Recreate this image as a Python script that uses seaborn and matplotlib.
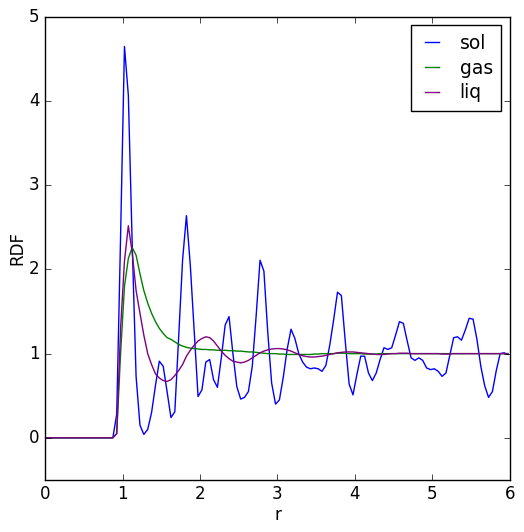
"""
Radial distribution function for solid, gas and liquid phases
"""
import numpy as np
import pandas as pd
import matplotlib
matplotlib.use("Agg")
import matplotlib.pyplot as plt
import seaborn as sns

# r grid (bin centres, step 0.05)
r = np.arange(120) * 0.05 + 0.025

sol = [0.0] * 17 + [
    0.0, 0.28, 2.4, 4.65, 4.07, 2.3, 0.73, 0.15, 0.04, 0.1,
    0.3, 0.62, 0.91, 0.85, 0.55, 0.24, 0.31, 1.2, 2.11, 2.64,
    2.05, 1.27, 0.49, 0.57, 0.9, 0.93, 0.69, 0.6, 0.95, 1.34,
    1.44, 1.0, 0.61, 0.46, 0.48, 0.55, 0.85, 1.45, 2.11, 1.98,
    1.25, 0.65, 0.4, 0.45, 0.72, 1.05, 1.29, 1.18, 1.0, 0.9,
    0.84, 0.82, 0.83, 0.82, 0.79, 0.86, 1.1, 1.4, 1.73, 1.69,
    1.15, 0.64, 0.51, 0.75, 0.97, 0.97, 0.77, 0.68, 0.77, 0.93,
    1.07, 1.05, 1.07, 1.22, 1.38, 1.36, 1.15, 0.95, 0.92, 0.95,
    0.92, 0.83, 0.81, 0.82, 0.79, 0.73, 0.77, 0.98, 1.19, 1.2,
    1.16, 1.28, 1.42, 1.41, 1.17, 0.85, 0.62, 0.48, 0.55, 0.8,
    1.0, 1.01, 0.99,
]

gas = [0.0] * 17 + [
    0.0, 0.05, 1.0, 1.8, 2.13, 2.26, 2.17, 1.95, 1.75, 1.6,
    1.48, 1.38, 1.3, 1.24, 1.19, 1.17, 1.14, 1.11, 1.09, 1.075,
    1.065, 1.06, 1.055, 1.05, 1.05, 1.045, 1.045, 1.04, 1.04, 1.04,
    1.035, 1.035, 1.03, 1.03, 1.025, 1.02, 1.02, 1.015, 1.01, 1.005,
    1.0, 1.0, 1.0, 0.995, 0.995, 0.99, 0.99, 0.99, 0.99, 0.99,
    0.99, 0.99, 0.995, 0.995, 1.0, 1.0, 1.0, 1.0, 1.005, 1.005,
    1.005, 1.0, 1.0, 1.0, 1.0, 0.995, 0.995, 0.995, 0.995, 1.0,
    1.0, 1.0, 1.0, 1.0, 1.0, 1.0, 1.0, 1.0, 1.0, 1.0,
    1.0, 1.0, 1.0, 1.0, 1.0, 1.0, 1.0, 1.0, 1.0, 1.0,
    1.0, 1.0, 1.0, 1.0, 1.0, 1.0, 1.0, 1.0, 1.0, 1.0,
    1.0, 1.0, 1.0,
]

liq = [0.0] * 17 + [
    0.0, 0.05, 1.3, 2.1, 2.52, 2.2, 1.75, 1.48, 1.22, 1.0,
    0.87, 0.76, 0.71, 0.68, 0.67, 0.69, 0.74, 0.8, 0.87, 0.97,
    1.04, 1.1, 1.15, 1.18, 1.2, 1.19, 1.15, 1.09, 1.03, 0.98,
    0.94, 0.91, 0.9, 0.89, 0.9, 0.92, 0.95, 0.98, 1.01, 1.03,
    1.045, 1.055, 1.06, 1.06, 1.055, 1.045, 1.03, 1.01, 0.99, 0.975,
    0.965, 0.96, 0.96, 0.965, 0.97, 0.98, 0.99, 1.0, 1.01, 1.015,
    1.02, 1.02, 1.02, 1.015, 1.01, 1.005, 1.0, 0.995, 0.99, 0.99,
    0.99, 0.995, 1.0, 1.0, 1.005, 1.005, 1.005, 1.0, 1.0, 1.0,
    1.0, 1.0, 1.0, 1.0, 1.0, 0.995, 0.995, 0.995, 1.0, 1.0,
    1.0, 1.0, 1.0, 1.0, 1.0, 1.0, 1.0, 1.0, 1.0, 1.0,
    1.0, 1.0, 1.0,
]

phases = ["sol", "gas", "liq"]
colors = {"sol": "#0000ff", "gas": "#008000", "liq": "#800080"}


def main():
    plt.style.use("classic")
    plt.rcParams["figure.facecolor"] = "white"
    plt.rcParams["savefig.facecolor"] = "white"

    df = pd.DataFrame({"r": r, "sol": sol, "gas": gas, "liq": liq})

    fig, ax = plt.subplots(figsize=(5.24, 5.32), dpi=100)
    fig.subplots_adjust(left=0.086, right=0.973, bottom=0.098, top=0.968)

    for name in phases:
        sns.lineplot(data=df, x="r", y=name, ax=ax, color=colors[name],
                     linewidth=1.0, label=name)

    ax.set_xlim(0, 6)
    ax.set_ylim(-0.5, 5)
    ax.set_xticks(range(0, 7))
    ax.set_yticks(range(0, 6))
    ax.set_xlabel("r", labelpad=2)
    ax.set_ylabel("RDF", labelpad=2)
    ax.legend(loc="upper right", fontsize=13.5, handlelength=1.35,
              labelspacing=0.3, borderpad=0.45, handletextpad=0.8,
              borderaxespad=0.45)

    fig.savefig("out.png", dpi=100)
    plt.close(fig)


if __name__ == "__main__":
    main()
